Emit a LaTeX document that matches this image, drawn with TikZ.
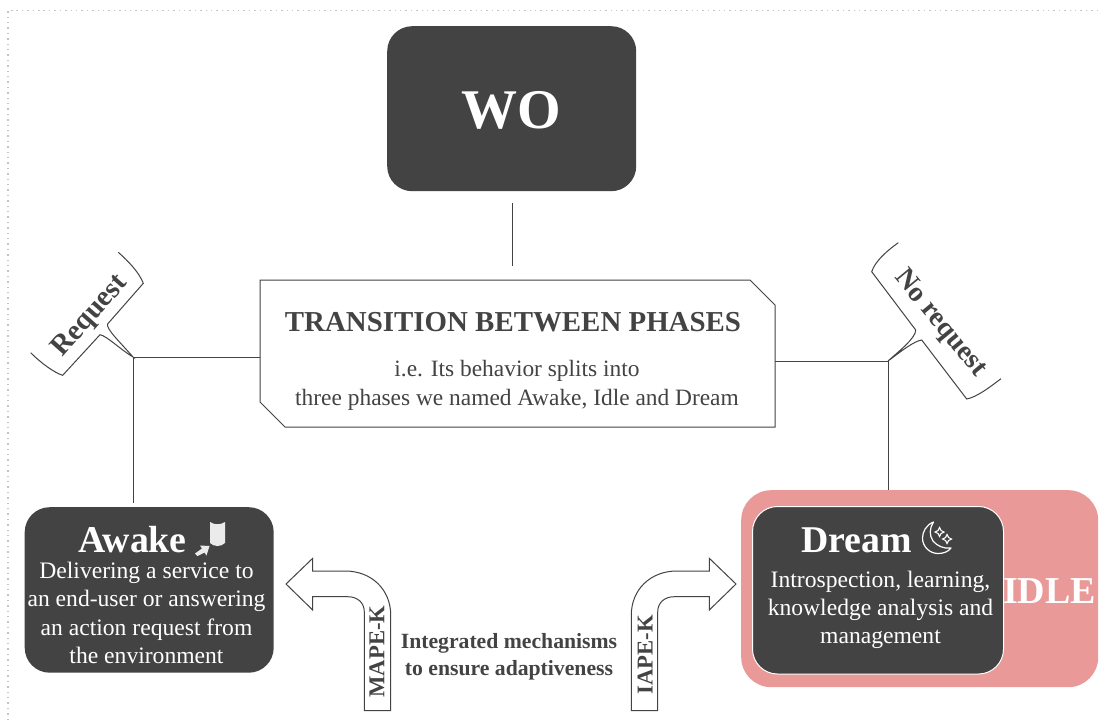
\documentclass[tikz,border=0pt]{standalone}
\usepackage{fontspec}
\setmainfont{Liberation Serif}
\definecolor{darkfill}{HTML}{434343}
\definecolor{idlepink}{HTML}{EA9999}
\definecolor{dotgray}{HTML}{C4C4C4}
\tikzset{
  linkline/.style={draw=darkfill,line width=1pt},
  calloutline/.style={draw=darkfill,line width=1pt,fill=none},
  darkpanel/.style={fill=darkfill,draw=none,rounded corners=25pt,inner sep=0pt,anchor=north west},
  lab/.style={text=darkfill,font=\bfseries,inner sep=0pt,align=center},
  whitetext/.style={text=white,inner sep=0pt,align=center},
}
\begin{document}
\begin{tikzpicture}[x=1pt,y=-1pt]
\useasboundingbox (0,0) rectangle (1102,720);
\fill[white] (0,0) rectangle (1102,720);
% dotted frame
\draw[dotgray,line width=1.5pt,dash pattern=on 1.5pt off 3.9pt] (8,720) -- (8,10.3) -- (1102,10.3);
% boxes
\node[darkpanel,minimum width=249pt,minimum height=165pt] (wo) at (387,26) {};
\node[whitetext,font=\bfseries\fontsize{56}{60}\selectfont] (wot) at (511.5,110) {WO};
\draw[linkline,fill=white,line join=miter] (260,280) -- (750,280) -- (775,305) -- (775,427) -- (285,427) -- (260,402) -- cycle;
\node[lab,font=\bfseries\fontsize{28.9}{30}\selectfont] (tt) at (513,322.5) {TRANSITION BETWEEN PHASES};
\node[text=darkfill,inner sep=0pt,align=center,font=\fontsize{23.4}{28.5}\selectfont] (tb) at (517,385.5) {i.e. Its behavior splits into\\three phases we named Awake, Idle and Dream};
% connectors
\coordinate (woB) at (512,203);
\coordinate (transT) at (512,266);
\draw[linkline] (woB) -- (transT);
\coordinate (lj) at (133,357);
\coordinate (rj) at (888,361);
\coordinate (tl) at (260,357);
\coordinate (tr) at (775,361);
\coordinate (aT) at (133,503);
\coordinate (iT) at (888,490);
\draw[linkline] (tl) -- (lj) -- (aT);
\draw[linkline] (tr) -- (rj) -- (iT);
% callouts
\draw[calloutline] (118.3,252.3) .. controls (128,261) and (139,272) .. (143.3,283.3)
  -- (107.6,324) .. controls (106,329) and (120,342) .. (lj)
  .. controls (121,350) and (107,336) .. (100,334.7) -- (62.7,375.3)
  .. controls (55,373) and (42,364) .. (30.7,352.7);
\draw[calloutline] (898.3,242.7) .. controls (888,250) and (875,261) .. (871.7,271.7)
  -- (915.7,330) .. controls (916,338) and (898,352) .. (rj)
  .. controls (900,352) and (914,341) .. (921.7,340) -- (966.7,399)
  .. controls (977,397) and (990,387) .. (1001,378.7);
\node[lab,font=\bfseries\fontsize{28.8}{30}\selectfont,rotate=48.5] (req) at (90.5,316.5) {Request};
\node[lab,font=\bfseries\fontsize{28}{30}\selectfont,rotate=-50.5] (noreq) at (940,323.5) {No request};
% awake
\node[darkpanel,minimum width=249pt,minimum height=165.5pt] (awake) at (24.5,507) {};
\node[whitetext,font=\bfseries\fontsize{37.8}{40}\selectfont] (awt) at (132.5,540) {Awake};
\node[whitetext,font=\fontsize{23.6}{28.5}\selectfont] (awb) at (146.5,613) {Delivering a service to\\an end-user or answering\\an action request from\\the environment};
\fill[white!92!black] (210,522) .. controls (214,525) and (221,525) .. (225,522) -- (225,543) .. controls (221,547) and (214,547) .. (210,543) -- cycle;
\fill[white!92!black] (195,553.5) -- (197.5,556) -- (204.5,552.5) -- (206.5,555.5) -- (209.5,546) -- (200,545.5) -- (202,548.5) -- cycle;
% idle
\node[fill=idlepink,draw=none,rounded corners=30pt,minimum width=357pt,minimum height=197pt,inner sep=0pt,anchor=north west] (idle) at (741,490) {};
\node[darkpanel,draw=white,line width=1pt,minimum width=251pt,minimum height=167.5pt] (dream) at (752,506) {};
\node[whitetext,font=\bfseries\fontsize{38}{40}\selectfont,anchor=base west] (idlet) at (1003,603) {IDLE};
\node[whitetext,font=\bfseries\fontsize{37.8}{40}\selectfont] (dt) at (856.5,540) {Dream};
\node[whitetext,font=\fontsize{23.6}{28}\selectfont] (db) at (880.5,610) {Introspection, learning,\\knowledge analysis and\\management};
% moon icon
\draw[white,line width=1.2pt,line join=round] (933.5,522) .. controls (926,525) and (922.5,532) .. (922.5,538) .. controls (922.5,547) and (930,553.5) .. (938,553.5) .. controls (943,553.5) and (948,552) .. (951,548) .. controls (944,549) and (937,546) .. (933,541) .. controls (929,535) and (929.5,528) .. (933.5,522) -- cycle;
\draw[white,line width=1.1pt] (939.5,527.5) -- (941,530.5) -- (944,532) -- (941,533.5) -- (939.5,536.5) -- (938,533.5) -- (935,532) -- (938,530.5) -- cycle;
\draw[white,line width=1.1pt] (947,534.5) -- (948.5,537.5) -- (951.5,539) -- (948.5,540.5) -- (947,543.5) -- (945.5,540.5) -- (942.5,539) -- (945.5,537.5) -- cycle;
% arrows
\draw[linkline,fill=white,line join=miter] (286,584) -- (312.7,558.3) -- (312.7,571) -- (345,571) .. controls (372,571) and (390.7,590) .. (390.7,615) -- (390.7,710.7) -- (364.3,710.7) -- (364.3,612) .. controls (364.3,603) and (358,596.7) .. (347.7,596.7) -- (312.7,596.7) -- (312.7,610) -- cycle;
\draw[linkline,fill=white,line join=miter] (736,584) -- (709.3,558.3) -- (709.3,571) -- (677,571) .. controls (650,571) and (631.3,590) .. (631.3,615) -- (631.3,710.7) -- (657.7,710.7) -- (657.7,612) .. controls (657.7,603) and (664,596.7) .. (674.3,596.7) -- (709.3,596.7) -- (709.3,610) -- cycle;
\node[lab,font=\bfseries\fontsize{22.7}{24}\selectfont,rotate=90] (mape) at (377,651.5) {MAPE-K};
\node[lab,font=\bfseries\fontsize{22.7}{24}\selectfont,rotate=90] (iape) at (645,655) {IAPE-K};
\node[lab,font=\bfseries\fontsize{21.7}{26.5}\selectfont] (integ) at (509,657) {Integrated mechanisms\\to ensure adaptiveness};
\end{tikzpicture}
\end{document}
